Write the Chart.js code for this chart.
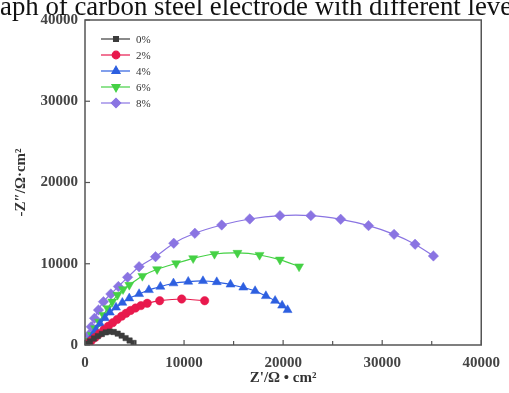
<!DOCTYPE html>
<html>
<head>
<meta charset="utf-8">
<script src="https://cdn.jsdelivr.net/npm/chart.js@4.4.0/dist/chart.umd.min.js"></script>
<style>
  html, body { margin: 0; padding: 0; background: #ffffff; }
  #wrap { position: relative; width: 509px; height: 393px; overflow: hidden; }
  #cap { position: absolute; left: 0; top: -9px; white-space: nowrap; font-family: "Liberation Serif", serif; font-size: 26.8px; color: #111; }
  canvas { position: absolute; left: 0; top: 0; }
</style>
</head>
<body>
<div id="wrap">
  <canvas id="c" width="509" height="393"></canvas>
  <div id="cap">aph of carbon steel electrode with different levels</div>
</div>
<script>
// Series labels
const seriesLabels = ['0%', '2%', '4%', '6%', '8%'];
// Z' (real) and -Z'' (imag) values per series
const re0 = [200, 500, 900, 1300, 1700, 2100, 2500, 2900, 3300, 3700, 4100, 4500, 4900];
const im0 = [150, 450, 800, 1100, 1350, 1550, 1650, 1600, 1400, 1150, 850, 550, 250];
const re2 = [300, 650, 1050, 1450, 1900, 2350, 2800, 3250, 3700, 4150, 4600, 5100, 5650, 6280, 7540, 9760, 12080];
const im2 = [200, 550, 950, 1400, 1850, 2300, 2750, 3150, 3550, 3900, 4250, 4550, 4850, 5130, 5450, 5660, 5450];
const re4 = [350, 690, 1090, 1520, 2010, 2510, 3130, 3770, 4470, 5460, 6450, 7610, 8930, 10420, 11910, 13300, 14690, 15980, 17170, 18260, 19190, 19900, 20450];
const im4 = [370, 1020, 1850, 2620, 3320, 4000, 4620, 5210, 5750, 6280, 6770, 7180, 7600, 7800, 7880, 7750, 7450, 7080, 6650, 6030, 5450, 4860, 4310];
const re6 = [430, 690, 1020, 1420, 1860, 2280, 2750, 3280, 3840, 4470, 5790, 7280, 9200, 10920, 13070, 15390, 17620, 19680, 21610];
const im6 = [530, 1230, 2060, 2860, 3690, 4520, 5330, 6160, 6860, 7390, 8490, 9320, 10050, 10670, 11200, 11330, 11080, 10500, 9660];
const re8 = [200, 370, 625, 960, 1360, 1860, 2610, 3370, 4300, 5460, 7120, 8960, 11090, 13800, 16630, 19680, 22800, 25810, 28620, 31200, 33320, 35170];
const im8 = [410, 1230, 2250, 3290, 4310, 5330, 6280, 7200, 8330, 9640, 10870, 12520, 13750, 14770, 15510, 15920, 15920, 15470, 14690, 13620, 12400, 10960];
// Axis tick values
const xTickValues = [0, 10000, 20000, 30000, 40000];
const yTickValues = [0, 10000, 20000, 30000, 40000];

function pts(xs, ys) { return xs.map((x, i) => ({ x: x, y: ys[i] })); }

const styles = [
  { color: '#3c3c3c', point: 'rect', r: 3.8, rot: 0 },
  { color: '#e8194d', point: 'circle', r: 4.2, rot: 0 },
  { color: '#2d5fe0', point: 'triangle', r: 5.2, rot: 0 },
  { color: '#45d145', point: 'triangle', r: 5.2, rot: 180 },
  { color: '#8a74e2', point: 'rectRot', r: 5.2, rot: 0 }
];
const allRe = [re0, re2, re4, re6, re8];
const allIm = [im0, im2, im4, im6, im8];

const datasets = seriesLabels.map((lab, i) => ({
  label: lab,
  data: pts(allRe[i], allIm[i]),
  borderColor: styles[i].color,
  backgroundColor: styles[i].color,
  borderWidth: 1.2,
  pointStyle: styles[i].point,
  pointRadius: styles[i].r,
  pointRotation: styles[i].rot,
  pointBorderWidth: 0.5,
  showLine: true,
  tension: 0.2
}));

const frame = {
  id: 'frame',
  afterDraw(chart) {
    const ctx = chart.ctx, a = chart.chartArea, xs = chart.scales.x, ys = chart.scales.y;
    ctx.save();
    ctx.strokeStyle = '#555';
    ctx.lineWidth = 1.5;
    ctx.strokeRect(a.left, a.top, a.right - a.left, a.bottom - a.top);
    ctx.lineWidth = 1.2;
    for (let v = 0; v <= 40000; v += 5000) {
      const px = xs.getPixelForValue(v);
      ctx.beginPath(); ctx.moveTo(px, a.bottom); ctx.lineTo(px, a.bottom - (v % 10000 === 0 ? 5 : 4)); ctx.stroke();
    }
    for (let v = 0; v <= 40000; v += 10000) {
      const py = ys.getPixelForValue(v);
      ctx.beginPath(); ctx.moveTo(a.left, py); ctx.lineTo(a.left + 5, py); ctx.stroke();
    }
    // legend
    const rows = [39, 55, 71, 87, 103];
    chart.data.datasets.forEach((ds, i) => {
      const y = rows[i];
      ctx.strokeStyle = ds.borderColor; ctx.lineWidth = 1.2;
      ctx.beginPath(); ctx.moveTo(101, y); ctx.lineTo(130, y); ctx.stroke();
      ctx.fillStyle = ds.backgroundColor;
      Chart.helpers.drawPoint(ctx, { pointStyle: ds.pointStyle, radius: ds.pointRadius * 0.9, rotation: ds.pointRotation, borderWidth: 0.5 }, 116, y);
      ctx.fillStyle = '#333';
      ctx.font = '11px "Liberation Serif", serif';
      ctx.textBaseline = 'middle'; ctx.textAlign = 'left';
      ctx.fillText(ds.label, 136, y + 1);
    });
    ctx.restore();
  }
};

const tickFont = { family: '"Liberation Serif", serif', size: 15, weight: 'bold' };

new Chart(document.getElementById('c'), {
  type: 'scatter',
  data: { datasets: datasets },
  plugins: [frame],
  options: {
    responsive: false,
    animation: false,
    layout: { padding: { top: 20, right: 22, left: 0, bottom: 0 } },
    plugins: { legend: { display: false }, tooltip: { enabled: false } },
    scales: {
      x: {
        type: 'linear', min: 0, max: 40000,
        afterBuildTicks(s) { s.ticks = xTickValues.map(v => ({ value: v })); },
        afterFit(s) { s.height = 48; },
        grid: { display: false, drawTicks: false },
        border: { display: false },
        ticks: { padding: 9, color: '#444', font: tickFont, maxRotation: 0, callback: v => String(v) },
        title: { display: true, text: "Z'/Ω • cm²", color: '#333', font: tickFont, padding: { top: 0, bottom: 6 } }
      },
      y: {
        type: 'linear', min: 0, max: 40000,
        afterBuildTicks(s) { s.ticks = yTickValues.map(v => ({ value: v })); },
        afterFit(s) { s.width = 85; },
        grid: { display: false, drawTicks: false },
        border: { display: false },
        ticks: { padding: 7, color: '#444', font: tickFont, callback: v => String(v) },
        title: { display: true, text: '-Z″/Ω·cm²', color: '#333', font: tickFont, padding: { top: 12, bottom: 0 } }
      }
    }
  }
});
</script>
</body>
</html>
